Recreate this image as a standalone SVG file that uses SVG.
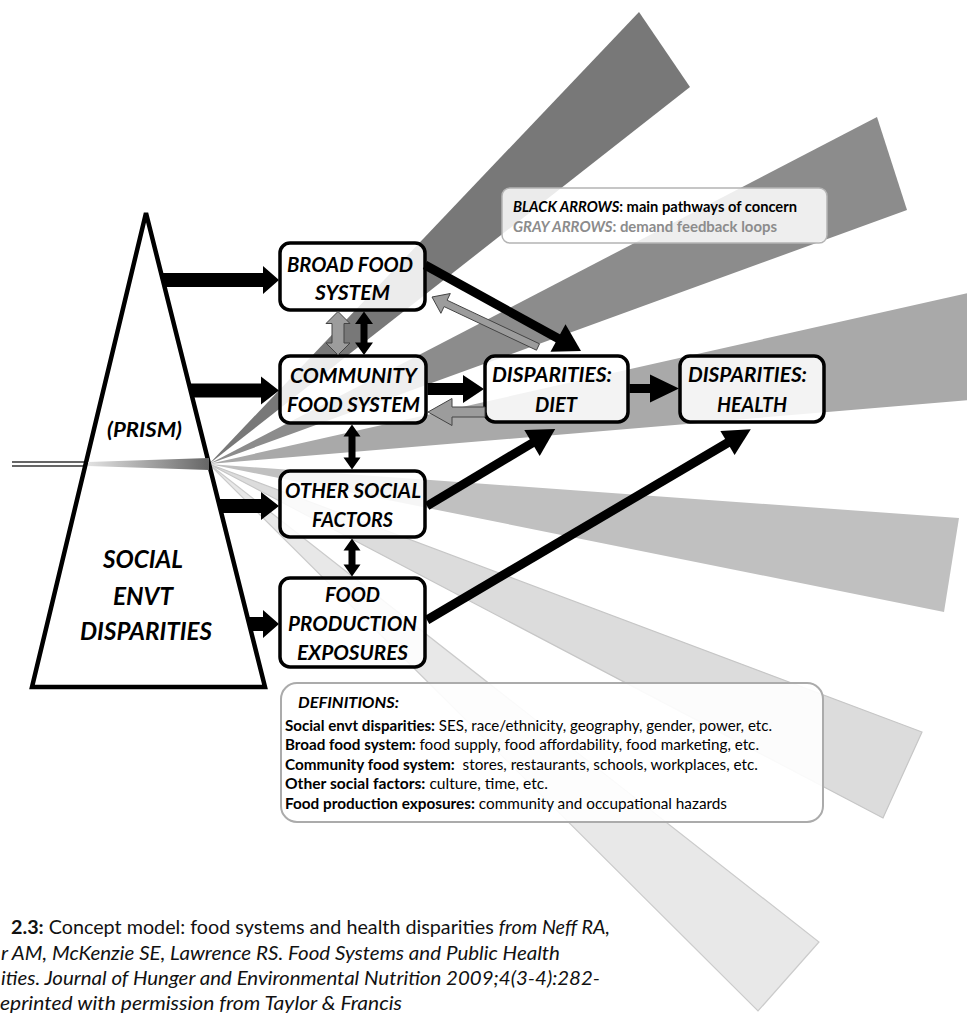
<svg xmlns="http://www.w3.org/2000/svg" width="967" height="1021" viewBox="0 0 967 1021">
<defs>
<linearGradient id="inlight" x1="0" y1="0" x2="1" y2="0">
<stop offset="0" stop-color="#e2e2e2"/>
<stop offset="1" stop-color="#666"/>
</linearGradient>
<style>
.node rect{fill:#fff;fill-opacity:0.86;stroke:#000;stroke-width:3.5}
.lbl{font-family:Lato,'Liberation Sans',sans-serif;font-weight:700;font-style:italic;font-size:20.5px;fill:#000}
.big{font-size:25px}
.leg{font-family:Lato,'Liberation Sans',sans-serif;font-weight:700;font-size:16px}
.def{font-family:Lato,'Liberation Sans',sans-serif;font-size:15px;fill:#000}
.cap{font-family:Lato,'Liberation Sans',sans-serif;font-size:19px;fill:#111}
.b{font-weight:700}
.i{font-style:italic}
.blk{fill:#000}
.gry{fill:#9c9c9c;stroke:#444;stroke-width:1}
.thick{stroke:#000;stroke-width:9;fill:none}
</style>
</defs>
<rect width="967" height="1021" fill="#fff"/>

<g id="beams">
<polygon points="209,464 639,12 690,87" fill="#787878"/>
<polygon points="209,464 877,117 907,210" fill="#8c8c8c"/>
<polygon points="209,464 1000,285.7 1000,397.6" fill="#a9a9a9"/>
<polygon points="209,464 959,518 944,612" fill="#c0c0c0"/>
<polygon points="209,464 922,732 883,818" fill="#dcdcdc" stroke="#c6c6c6" stroke-width="1.2"/>
<polygon points="209,464 819,942 758,1011" fill="#e8e8e8" stroke="#cbcbcb" stroke-width="1.2"/>
</g>

<g id="prism">
<line x1="12" y1="462" x2="87" y2="462" stroke="#333" stroke-width="1.3"/>
<line x1="12" y1="466" x2="87" y2="466" stroke="#333" stroke-width="1.3"/>
<polygon points="146,213 32,687 265,687" fill="#fff" stroke="#000" stroke-width="4.5" stroke-linejoin="miter"/>
<polygon points="88,462 88,466 209,470 209,458" fill="url(#inlight)"/>
<text class="lbl" x="107" y="437" font-size="21" textLength="75" lengthAdjust="spacingAndGlyphs">(PRISM)</text>
<text class="lbl big" x="103" y="568" textLength="80" lengthAdjust="spacingAndGlyphs">SOCIAL</text>
<text class="lbl big" x="113" y="605" textLength="60" lengthAdjust="spacingAndGlyphs">ENVT</text>
<text class="lbl big" x="80" y="640" textLength="132" lengthAdjust="spacingAndGlyphs">DISPARITIES</text>
</g>

<g id="broad" class="node">
<rect x="280" y="243" width="145" height="67" rx="10"/>
<text class="lbl" x="287" y="272" textLength="126" lengthAdjust="spacingAndGlyphs">BROAD FOOD</text>
<text class="lbl" x="315" y="300" textLength="75" lengthAdjust="spacingAndGlyphs">SYSTEM</text>
</g>
<g id="community" class="node">
<rect x="280" y="356" width="146" height="67" rx="10"/>
<text class="lbl" x="290" y="383" textLength="127" lengthAdjust="spacingAndGlyphs">COMMUNITY</text>
<text class="lbl" x="287" y="412" textLength="133" lengthAdjust="spacingAndGlyphs">FOOD SYSTEM</text>
</g>
<g id="other" class="node">
<rect x="280" y="471" width="145" height="66" rx="10"/>
<text class="lbl" x="285" y="498" textLength="136" lengthAdjust="spacingAndGlyphs">OTHER SOCIAL</text>
<text class="lbl" x="312" y="527" textLength="81" lengthAdjust="spacingAndGlyphs">FACTORS</text>
</g>
<g id="foodprod" class="node">
<rect x="280" y="578" width="145" height="89" rx="10"/>
<text class="lbl" x="325" y="602" textLength="55" lengthAdjust="spacingAndGlyphs">FOOD</text>
<text class="lbl" x="288" y="631" textLength="129" lengthAdjust="spacingAndGlyphs">PRODUCTION</text>
<text class="lbl" x="297" y="660" textLength="111" lengthAdjust="spacingAndGlyphs">EXPOSURES</text>
</g>
<g id="diet" class="node">
<rect x="485" y="356" width="143" height="66" rx="10"/>
<text class="lbl" x="492" y="382" textLength="120" lengthAdjust="spacingAndGlyphs">DISPARITIES:</text>
<text class="lbl" x="535" y="412" textLength="42" lengthAdjust="spacingAndGlyphs">DIET</text>
</g>
<g id="health" class="node">
<rect x="680" y="356" width="144" height="66" rx="10"/>
<text class="lbl" x="688" y="382" textLength="119" lengthAdjust="spacingAndGlyphs">DISPARITIES:</text>
<text class="lbl" x="717" y="412" textLength="70" lengthAdjust="spacingAndGlyphs">HEALTH</text>
</g>

<g id="connectors">
<polygon class="blk" points="161.1,273 263,273 263,266 279,280 263,294 263,287 164.6,287"/>
<polygon class="blk" points="188.8,383.5 261,383.5 261,376.5 279,390.5 261,404.5 261,397.5 192.3,397.5"/>
<polygon class="blk" points="217.8,499 261,499 261,492 279,506 261,520 261,513 221.3,513"/>
<polygon class="blk" points="247.4,617 263,617 263,610 279,624 263,638 263,631 250.9,631"/>
<polygon class="gry" points="338,311.5 350,323.5 344,323.5 344,343 350,343 338,355 326,343 332,343 332,323.5 326,323.5"/>
<polygon class="blk" points="364,311.5 373,324 367.5,324 367.5,342.5 373,342.5 364,355 355,342.5 360.5,342.5 360.5,324 355,324"/>
<polygon class="blk" points="352,424.5 360.5,436.5 355.5,436.5 355.5,457.5 360.5,457.5 352,469.5 343.5,457.5 348.5,457.5 348.5,436.5 343.5,436.5"/>
<polygon class="blk" points="352,538.5 360.5,550.5 355.5,550.5 355.5,564.5 360.5,564.5 352,576.5 343.5,564.5 348.5,564.5 348.5,550.5 343.5,550.5"/>
<polygon class="blk" points="427.5,383 463,383 463,375 484,389 463,403 463,395 427.5,395"/>
<polygon class="gry" points="485,407 452,407 452,398.5 428,412 452,425.5 452,417 485,417"/>
<polygon class="blk" points="629.5,384 650,384 650,374.5 679,388.5 650,402.5 650,393 629.5,393"/>
<line class="thick" x1="425" y1="265" x2="560" y2="339.5"/>
<polygon class="blk" points="581,351 550.5,351.7 565.5,324.3"/>
<polygon class="gry" points="539.5,343.8 447.1,300.2 450.3,293.5 432,297 440.9,313.3 444.1,306.6 536.5,350.2"/>
<line class="thick" x1="427" y1="506" x2="534" y2="442"/>
<polygon class="blk" points="555.2,429.1 539.7,455.9 524.3,430.1"/>
<line class="thick" x1="427" y1="620" x2="729" y2="442"/>
<polygon class="blk" points="750.8,429.3 734.6,455 720.4,431"/>
</g>

<g id="legend">
<rect x="502" y="188" width="325" height="55" rx="8" fill="#fff" fill-opacity="0.85" stroke="#b4b4b4" stroke-width="1.5"/>
<text class="leg" x="513" y="212" fill="#000" textLength="284" lengthAdjust="spacingAndGlyphs"><tspan class="i">BLACK ARROWS</tspan>: main pathways of concern</text>
<text class="leg" x="513" y="232" fill="#8c8c8c" textLength="264" lengthAdjust="spacingAndGlyphs"><tspan class="i">GRAY ARROWS</tspan>: demand feedback loops</text>
</g>

<g id="definitions">
<rect x="281" y="683" width="542" height="139" rx="16" fill="#fff" fill-opacity="0.9" stroke="#ababab" stroke-width="2"/>
<text class="def b i" x="298" y="708" textLength="101" lengthAdjust="spacingAndGlyphs">DEFINITIONS:</text>
<text class="def" x="285" y="731" textLength="487" lengthAdjust="spacingAndGlyphs"><tspan class="b">Social envt disparities:</tspan> SES, race/ethnicity, geography, gender, power, etc.</text>
<text class="def" x="285" y="750" textLength="474" lengthAdjust="spacingAndGlyphs"><tspan class="b">Broad food system:</tspan> food supply, food affordability, food marketing, etc.</text>
<text class="def" x="285" y="770" textLength="473" lengthAdjust="spacingAndGlyphs"><tspan class="b">Community food system:</tspan>&#160; stores, restaurants, schools, workplaces, etc.</text>
<text class="def" x="285" y="789" textLength="263" lengthAdjust="spacingAndGlyphs"><tspan class="b">Other social factors:</tspan> culture, time, etc.</text>
<text class="def" x="285" y="809" textLength="442" lengthAdjust="spacingAndGlyphs"><tspan class="b">Food production exposures:</tspan> community and occupational hazards</text>
</g>

<g id="caption">
<text class="cap" x="11" y="934" textLength="599" lengthAdjust="spacingAndGlyphs"><tspan class="b">2.3:</tspan> Concept model: food systems and health disparities <tspan class="i">from Neff RA,</tspan></text>
<text class="cap i" x="1" y="960" textLength="559" lengthAdjust="spacingAndGlyphs">r AM, McKenzie SE, Lawrence RS. Food Systems and Public Health</text>
<text class="cap i" x="1" y="985" textLength="599" lengthAdjust="spacingAndGlyphs">ities. Journal of Hunger and Environmental Nutrition 2009;4(3-4):282-</text>
<text class="cap i" x="0" y="1010" textLength="402" lengthAdjust="spacingAndGlyphs">eprinted with permission from Taylor &amp; Francis</text>
</g>
</svg>
